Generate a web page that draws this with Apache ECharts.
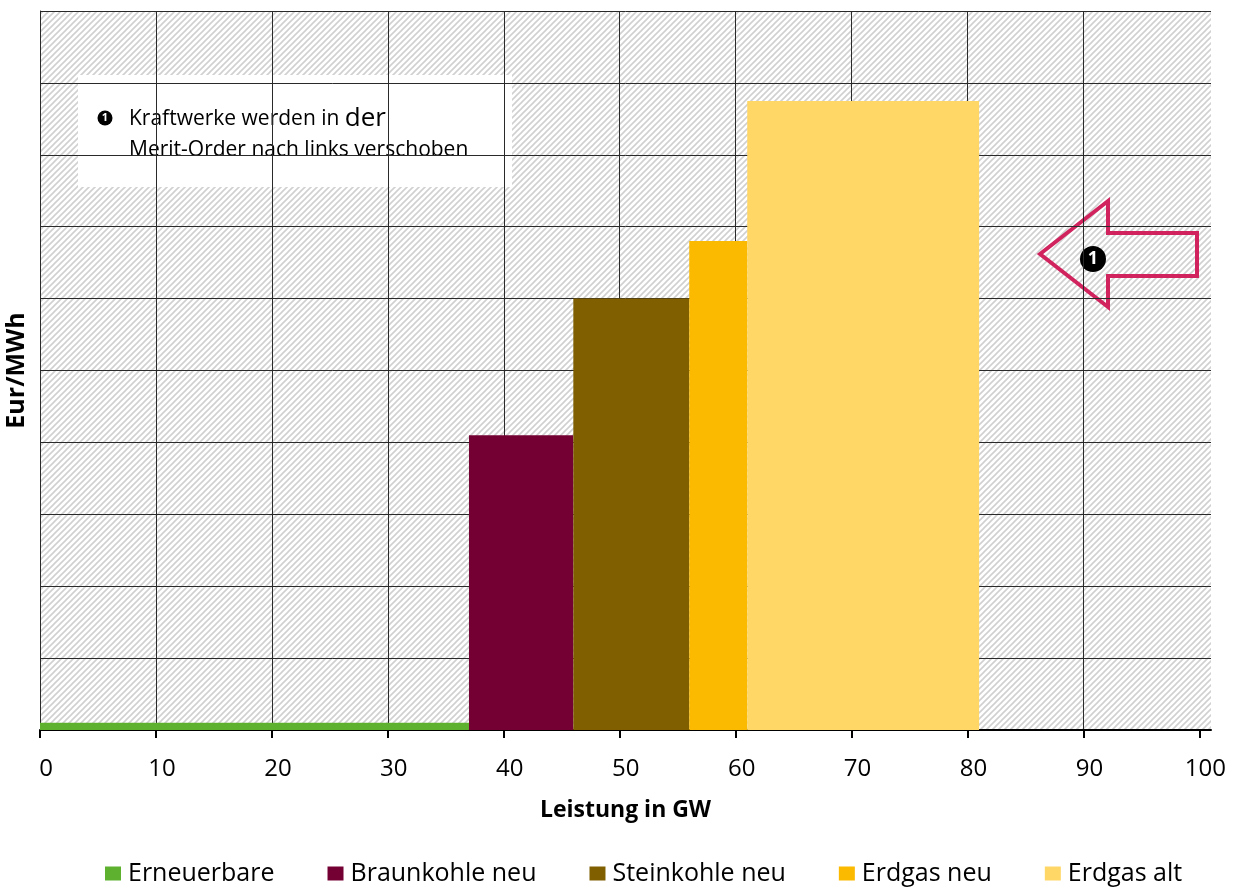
<!DOCTYPE html>
<html>
<head>
<meta charset="utf-8">
<script src="https://cdn.jsdelivr.net/npm/echarts@6/dist/echarts.min.js"></script>
<style>
  html, body { margin: 0; padding: 0; background: #fff; }
  #chart { width: 1235px; height: 887px; }
</style>
</head>
<body>
<div id="chart"></div>
<script>
// Merit-Order: power plant blocks by capacity (GW) and marginal cost (Eur/MWh)
const categories = ['Erneuerbare', 'Braunkohle neu', 'Steinkohle neu', 'Erdgas neu', 'Erdgas alt'];
const capacityStart = [0, 37, 46, 56, 61];
const capacityEnd = [37, 46, 56, 61, 81];
const prices = [1, 41, 60, 68, 87.5];
const xTickValues = [0, 10, 20, 30, 40, 50, 60, 70, 80, 90, 100];
const colors = ['#5db12f', '#740033', '#7f5f00', '#fbb900', '#ffd766'];

const FONT = "'Open Sans', 'Noto Sans', sans-serif";

// Diagonal hatch used as plot-area fill
function makeHatch() {
  const size = 6;
  const c = document.createElement('canvas');
  c.width = size; c.height = size;
  const g = c.getContext('2d');
  g.fillStyle = '#ffffff';
  g.fillRect(0, 0, size, size);
  g.strokeStyle = '#d0d0d0';
  g.lineWidth = 1.6;
  g.beginPath();
  g.moveTo(-1, size + 1); g.lineTo(size + 1, -1);
  g.moveTo(-1, 1); g.lineTo(1, -1);
  g.moveTo(size - 1, size + 1); g.lineTo(size + 1, size - 1);
  g.stroke();
  return c;
}

function renderBlock(params, api) {
  const topLeft = api.coord([api.value(0), api.value(2)]);
  const bottomRight = api.coord([api.value(1), 0]);
  return {
    type: 'rect',
    shape: {
      x: topLeft[0],
      y: topLeft[1],
      width: bottomRight[0] - topLeft[0],
      height: bottomRight[1] - topLeft[1]
    },
    style: { fill: api.visual('color') }
  };
}

const series = categories.map((name, i) => ({
  name: name,
  type: 'custom',
  renderItem: renderBlock,
  itemStyle: { color: colors[i] },
  encode: { x: [0, 1], y: 2 },
  data: [[capacityStart[i], capacityEnd[i], prices[i]]],
  z: 3,
  silent: true
}));

const chart = echarts.init(document.getElementById('chart'), null, { renderer: 'canvas' });

const option = {
  animation: false,
  textStyle: { fontFamily: FONT },
  grid: {
    left: 40, right: 24, top: 11, bottom: 157,
    outerBoundsMode: 'none',
    containLabel: false,
    show: true,
    borderWidth: 0,
    backgroundColor: { image: makeHatch(), repeat: 'repeat' }
  },
  xAxis: {
    type: 'value',
    min: 0, max: 101, interval: 10,
    name: 'Leistung in GW',
    nameLocation: 'middle',
    nameGap: 69,
    nameTextStyle: { fontFamily: FONT, fontSize: 23, fontWeight: 'bold', color: '#000' },
    axisLine: { show: true, onZero: false, lineStyle: { color: '#000', width: 2 } },
    axisTick: { show: true, length: 8, lineStyle: { color: '#000', width: 2 }, customValues: xTickValues },
    axisLabel: {
      customValues: xTickValues,
      fontFamily: FONT, fontSize: 24, color: '#000', margin: 27,
      padding: [0, 0, 0, 12]
    },
    splitLine: { show: true, showMinLine: false, showMaxLine: false, lineStyle: { color: '#2a2a2a', width: 1 } }
  },
  yAxis: {
    type: 'value',
    min: 0, max: 100, interval: 10,
    name: 'Eur/MWh',
    nameLocation: 'middle',
    nameGap: 11,
    nameTextStyle: { fontFamily: FONT, fontSize: 25, fontWeight: 'bold', color: '#000' },
    axisLine: { show: true, lineStyle: { color: '#2a2a2a', width: 1 } },
    axisTick: { show: false },
    axisLabel: { show: false },
    splitLine: { show: true, lineStyle: { color: '#2a2a2a', width: 1 } }
  },
  legend: {
    data: categories,
    left: 105,
    top: 861,
    padding: 0,
    itemGap: 53,
    itemWidth: 16,
    itemHeight: 14,
    icon: 'rect',
    textStyle: { fontFamily: FONT, fontSize: 25, color: '#000', padding: [0, 0, 0, 2] }
  },
  series: series,
  graphic: [
    // note box
    {
      type: 'group',
      z: 10,
      children: [
        { type: 'rect', shape: { x: 78, y: 75, width: 434, height: 112 }, style: { fill: '#fff' } },
        { type: 'circle', shape: { cx: 105, cy: 118, r: 7.5 }, style: { fill: '#000' } },
        { type: 'text', x: 105, y: 118, style: { text: '1', fill: '#fff', font: "bold 11px " + FONT, align: 'center', verticalAlign: 'middle' } },
        {
          type: 'text', x: 129, y: 119,
          style: {
            text: '{a|Kraftwerke werden in }{b|der}',
            verticalAlign: 'middle',
            fill: '#000',
            rich: {
              a: { fontFamily: FONT, fontSize: 21, fill: '#000' },
              b: { fontFamily: FONT, fontSize: 26, fill: '#000' }
            }
          }
        },
        { type: 'text', x: 129, y: 150, style: { text: 'Merit-Order nach links verschoben', fill: '#000', font: "21px " + FONT, verticalAlign: 'middle' } }
      ]
    },
    // shift arrow
    {
      type: 'group',
      z: 10,
      children: [
        {
          type: 'polygon',
          shape: { points: [[1040, 254], [1108, 201], [1108, 233], [1197, 233], [1197, 276], [1108, 276], [1108, 307]] },
          style: { fill: 'none', stroke: '#d1245f', lineWidth: 4, lineJoin: 'miter' }
        },
        { type: 'circle', shape: { cx: 1093, cy: 259, r: 13 }, style: { fill: '#000' } },
        { type: 'text', x: 1093, y: 259, style: { text: '1', fill: '#fff', font: "bold 18px " + FONT, align: 'center', verticalAlign: 'middle' } }
      ]
    }
  ]
};

chart.setOption(option);
</script>
</body>
</html>
